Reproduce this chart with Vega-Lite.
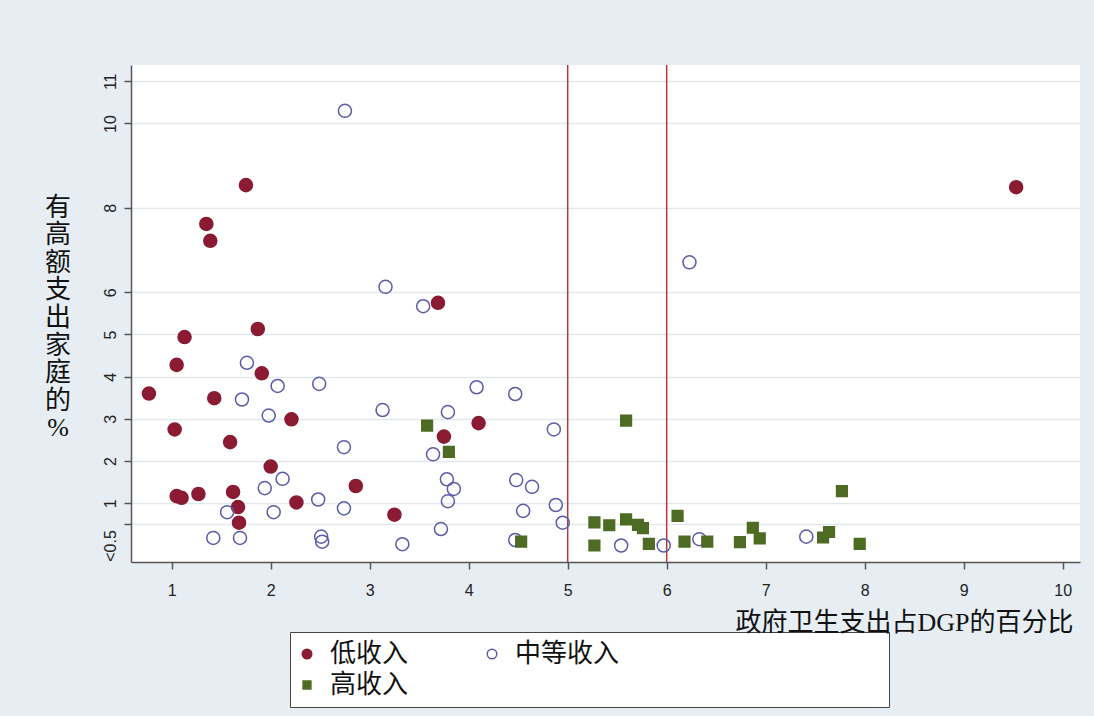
{
  "$schema": "https://vega.github.io/schema/vega-lite/v6.json",
  "width": 949,
  "height": 497,
  "autosize": {"type": "none"},
  "padding": {"left": 131, "top": 65, "right": 14, "bottom": 154},
  "background": "#e6eef3",
  "config": {
    "view": {"fill": "white", "stroke": null}
  },
  "layer": [
    {
      "data": {"values": [{"ref_share": 5}, {"ref_share": 6}]},
      "mark": {"type": "rule", "color": "#b5383c", "strokeWidth": 1.5},
      "encoding": {
        "x": {"field": "ref_share", "type": "quantitative", "scale": {"domain": [0.589, 10.175], "nice": false, "zero": false}}
      }
    },
    {
      "data": {
        "values": [
          {"income": "低收入", "gov_health_gdp": 0.77, "high_cost_pct": 3.60},
          {"income": "低收入", "gov_health_gdp": 1.03, "high_cost_pct": 2.75},
          {"income": "低收入", "gov_health_gdp": 1.05, "high_cost_pct": 4.28},
          {"income": "低收入", "gov_health_gdp": 1.13, "high_cost_pct": 4.94},
          {"income": "低收入", "gov_health_gdp": 1.05, "high_cost_pct": 1.17},
          {"income": "低收入", "gov_health_gdp": 1.10, "high_cost_pct": 1.13},
          {"income": "低收入", "gov_health_gdp": 1.27, "high_cost_pct": 1.22},
          {"income": "低收入", "gov_health_gdp": 1.35, "high_cost_pct": 7.62},
          {"income": "低收入", "gov_health_gdp": 1.39, "high_cost_pct": 7.22},
          {"income": "低收入", "gov_health_gdp": 1.43, "high_cost_pct": 3.49},
          {"income": "低收入", "gov_health_gdp": 1.59, "high_cost_pct": 2.45},
          {"income": "低收入", "gov_health_gdp": 1.62, "high_cost_pct": 1.27},
          {"income": "低收入", "gov_health_gdp": 1.67, "high_cost_pct": 0.91},
          {"income": "低收入", "gov_health_gdp": 1.68, "high_cost_pct": 0.54},
          {"income": "低收入", "gov_health_gdp": 1.75, "high_cost_pct": 8.54},
          {"income": "低收入", "gov_health_gdp": 1.87, "high_cost_pct": 5.13},
          {"income": "低收入", "gov_health_gdp": 1.91, "high_cost_pct": 4.08},
          {"income": "低收入", "gov_health_gdp": 2.00, "high_cost_pct": 1.87},
          {"income": "低收入", "gov_health_gdp": 2.21, "high_cost_pct": 2.99},
          {"income": "低收入", "gov_health_gdp": 2.26, "high_cost_pct": 1.02},
          {"income": "低收入", "gov_health_gdp": 2.86, "high_cost_pct": 1.41},
          {"income": "低收入", "gov_health_gdp": 3.25, "high_cost_pct": 0.73},
          {"income": "低收入", "gov_health_gdp": 3.69, "high_cost_pct": 5.75},
          {"income": "低收入", "gov_health_gdp": 3.75, "high_cost_pct": 2.58},
          {"income": "低收入", "gov_health_gdp": 4.10, "high_cost_pct": 2.90},
          {"income": "低收入", "gov_health_gdp": 9.53, "high_cost_pct": 8.49},
          {"income": "中等收入", "gov_health_gdp": 2.75, "high_cost_pct": 10.30},
          {"income": "中等收入", "gov_health_gdp": 6.23, "high_cost_pct": 6.71},
          {"income": "中等收入", "gov_health_gdp": 3.16, "high_cost_pct": 6.13},
          {"income": "中等收入", "gov_health_gdp": 3.54, "high_cost_pct": 5.67},
          {"income": "中等收入", "gov_health_gdp": 1.76, "high_cost_pct": 4.33},
          {"income": "中等收入", "gov_health_gdp": 2.07, "high_cost_pct": 3.78},
          {"income": "中等收入", "gov_health_gdp": 2.49, "high_cost_pct": 3.83},
          {"income": "中等收入", "gov_health_gdp": 4.08, "high_cost_pct": 3.75},
          {"income": "中等收入", "gov_health_gdp": 4.47, "high_cost_pct": 3.59},
          {"income": "中等收入", "gov_health_gdp": 1.71, "high_cost_pct": 3.46},
          {"income": "中等收入", "gov_health_gdp": 1.98, "high_cost_pct": 3.08},
          {"income": "中等收入", "gov_health_gdp": 3.13, "high_cost_pct": 3.21},
          {"income": "中等收入", "gov_health_gdp": 3.79, "high_cost_pct": 3.16},
          {"income": "中等收入", "gov_health_gdp": 4.86, "high_cost_pct": 2.75},
          {"income": "中等收入", "gov_health_gdp": 2.74, "high_cost_pct": 2.33},
          {"income": "中等收入", "gov_health_gdp": 3.64, "high_cost_pct": 2.16},
          {"income": "中等收入", "gov_health_gdp": 2.12, "high_cost_pct": 1.58},
          {"income": "中等收入", "gov_health_gdp": 1.94, "high_cost_pct": 1.36},
          {"income": "中等收入", "gov_health_gdp": 3.78, "high_cost_pct": 1.57},
          {"income": "中等收入", "gov_health_gdp": 3.85, "high_cost_pct": 1.34},
          {"income": "中等收入", "gov_health_gdp": 4.48, "high_cost_pct": 1.55},
          {"income": "中等收入", "gov_health_gdp": 4.64, "high_cost_pct": 1.39},
          {"income": "中等收入", "gov_health_gdp": 2.48, "high_cost_pct": 1.09},
          {"income": "中等收入", "gov_health_gdp": 3.79, "high_cost_pct": 1.05},
          {"income": "中等收入", "gov_health_gdp": 4.88, "high_cost_pct": 0.96},
          {"income": "中等收入", "gov_health_gdp": 1.56, "high_cost_pct": 0.79},
          {"income": "中等收入", "gov_health_gdp": 2.03, "high_cost_pct": 0.79},
          {"income": "中等收入", "gov_health_gdp": 2.74, "high_cost_pct": 0.88},
          {"income": "中等收入", "gov_health_gdp": 4.55, "high_cost_pct": 0.82},
          {"income": "中等收入", "gov_health_gdp": 4.95, "high_cost_pct": 0.54},
          {"income": "中等收入", "gov_health_gdp": 3.72, "high_cost_pct": 0.39},
          {"income": "中等收入", "gov_health_gdp": 1.42, "high_cost_pct": 0.18},
          {"income": "中等收入", "gov_health_gdp": 1.69, "high_cost_pct": 0.18},
          {"income": "中等收入", "gov_health_gdp": 2.51, "high_cost_pct": 0.21},
          {"income": "中等收入", "gov_health_gdp": 2.52, "high_cost_pct": 0.09},
          {"income": "中等收入", "gov_health_gdp": 3.33, "high_cost_pct": 0.03},
          {"income": "中等收入", "gov_health_gdp": 4.47, "high_cost_pct": 0.13},
          {"income": "中等收入", "gov_health_gdp": 5.54, "high_cost_pct": 0.00},
          {"income": "中等收入", "gov_health_gdp": 5.97, "high_cost_pct": 0.00},
          {"income": "中等收入", "gov_health_gdp": 6.33, "high_cost_pct": 0.15},
          {"income": "中等收入", "gov_health_gdp": 7.41, "high_cost_pct": 0.21},
          {"income": "高收入", "gov_health_gdp": 3.58, "high_cost_pct": 2.84},
          {"income": "高收入", "gov_health_gdp": 3.80, "high_cost_pct": 2.22},
          {"income": "高收入", "gov_health_gdp": 5.59, "high_cost_pct": 2.96},
          {"income": "高收入", "gov_health_gdp": 7.77, "high_cost_pct": 1.29},
          {"income": "高收入", "gov_health_gdp": 4.53, "high_cost_pct": 0.09},
          {"income": "高收入", "gov_health_gdp": 5.27, "high_cost_pct": 0.55},
          {"income": "高收入", "gov_health_gdp": 5.42, "high_cost_pct": 0.48},
          {"income": "高收入", "gov_health_gdp": 5.59, "high_cost_pct": 0.62},
          {"income": "高收入", "gov_health_gdp": 5.71, "high_cost_pct": 0.49},
          {"income": "高收入", "gov_health_gdp": 5.76, "high_cost_pct": 0.41},
          {"income": "高收入", "gov_health_gdp": 6.11, "high_cost_pct": 0.70},
          {"income": "高收入", "gov_health_gdp": 5.27, "high_cost_pct": 0.00},
          {"income": "高收入", "gov_health_gdp": 5.82, "high_cost_pct": 0.04},
          {"income": "高收入", "gov_health_gdp": 6.18, "high_cost_pct": 0.09},
          {"income": "高收入", "gov_health_gdp": 6.41, "high_cost_pct": 0.09},
          {"income": "高收入", "gov_health_gdp": 6.74, "high_cost_pct": 0.08},
          {"income": "高收入", "gov_health_gdp": 6.87, "high_cost_pct": 0.42},
          {"income": "高收入", "gov_health_gdp": 6.94, "high_cost_pct": 0.17},
          {"income": "高收入", "gov_health_gdp": 7.58, "high_cost_pct": 0.19},
          {"income": "高收入", "gov_health_gdp": 7.64, "high_cost_pct": 0.32},
          {"income": "高收入", "gov_health_gdp": 7.95, "high_cost_pct": 0.04}
        ]
      },
      "mark": {"type": "point", "size": 170, "strokeWidth": 1.5, "opacity": 1},
      "encoding": {
        "x": {
          "field": "gov_health_gdp",
          "type": "quantitative",
          "scale": {"domain": [0.589, 10.175], "nice": false, "zero": false},
          "axis": {
            "zindex": 1,
            "values": [1, 2, 3, 4, 5, 6, 7, 8, 9, 10],
            "labelExpr": "'' + datum.value",
            "grid": false,
            "domainColor": "#555555",
            "domainWidth": 1.5,
            "tickColor": "#555555",
            "tickWidth": 1.5,
            "tickSize": 7,
            "labelFont": "Liberation Sans",
            "labelFontSize": 16,
            "labelColor": "#222222",
            "labelPadding": 13,
            "labelFlush": false,
            "title": "政府卫生支出占DGP的百分比",
            "titleFont": "Liberation Serif, Noto Sans CJK SC",
            "titleFontSize": 26,
            "titleFontWeight": "normal",
            "titleColor": "#111111",
            "titleAnchor": "end",
            "titleAlign": "right",
            "titleX": 942,
            "titlePadding": 11
          }
        },
        "y": {
          "field": "high_cost_pct",
          "type": "quantitative",
          "scale": {"domain": [-0.391, 11.386], "nice": false, "zero": false},
          "axis": {
            "values": [0, 0.5, 1, 2, 3, 4, 5, 6, 8, 10, 11],
            "labelExpr": "datum.value === 0 ? '<0.5' : datum.value === 0.5 ? '' : '' + datum.value",
            "labelAngle": 270,
            "labelAlign": "center",
            "labelBaseline": "bottom",
            "labelOverlap": false,
            "labelFont": "Liberation Sans",
            "labelFontSize": 16,
            "labelColor": "#222222",
            "labelPadding": 6,
            "grid": true,
            "gridColor": "#e2e9ee",
            "gridWidth": 1.5,
            "gridOpacity": {"condition": {"test": "datum.value === 0", "value": 0}, "value": 1},
            "tickOpacity": {"condition": {"test": "datum.value === 0", "value": 0}, "value": 1},
            "domainColor": "#555555",
            "domainWidth": 1.5,
            "tickColor": "#555555",
            "tickWidth": 1.5,
            "tickSize": 7,
            "title": ["有", "高", "额", "支", "出", "家", "庭", "的", "%"],
            "titleAngle": 0,
            "titleAlign": "center",
            "titleBaseline": "middle",
            "titleX": -73.5,
            "titleY": 142,
            "titleFont": "Liberation Serif, Noto Sans CJK SC",
            "titleFontSize": 26,
            "titleFontWeight": "normal",
            "titleColor": "#111111",
            "titleLineHeight": 27.6
          }
        },
        "shape": {
          "field": "income",
          "type": "nominal",
          "scale": {"domain": ["低收入", "中等收入", "高收入"], "range": ["circle", "circle", "M-0.82,-0.82H0.82V0.82H-0.82Z"]},
          "legend": {
            "title": null,
            "orient": "none",
            "legendX": 159,
            "legendY": 567,
            "direction": "horizontal",
            "columns": 2,
            "gridAlign": "each",
            "symbolSize": 90,
            "symbolStrokeWidth": 1.5,
            "symbolOffset": -5,
            "labelFont": "Liberation Serif, Noto Sans CJK SC",
            "labelFontSize": 26,
            "labelColor": "#111111",
            "labelOffset": 10,
            "labelLimit": 600,
            "labelExpr": "datum.label === '中等收入' ? datum.label + '\u3000\u3000\u3000\u3000\u3000\u3000\u3000\u3000\u3000\u3000\u200b' : datum.label",
            "padding": 9,
            "rowPadding": 5,
            "columnPadding": 75,
            "fillColor": "white",
            "strokeColor": "#444444"
          }
        },
        "fill": {
          "field": "income",
          "type": "nominal",
          "scale": {"domain": ["低收入", "中等收入", "高收入"], "range": ["#8a1b33", "transparent", "#4e6b24"]}
        },
        "stroke": {
          "field": "income",
          "type": "nominal",
          "scale": {"domain": ["低收入", "中等收入", "高收入"], "range": ["#8a1b33", "#5b5bab", "#4e6b24"]}
        }
      }
    }
  ]
}
